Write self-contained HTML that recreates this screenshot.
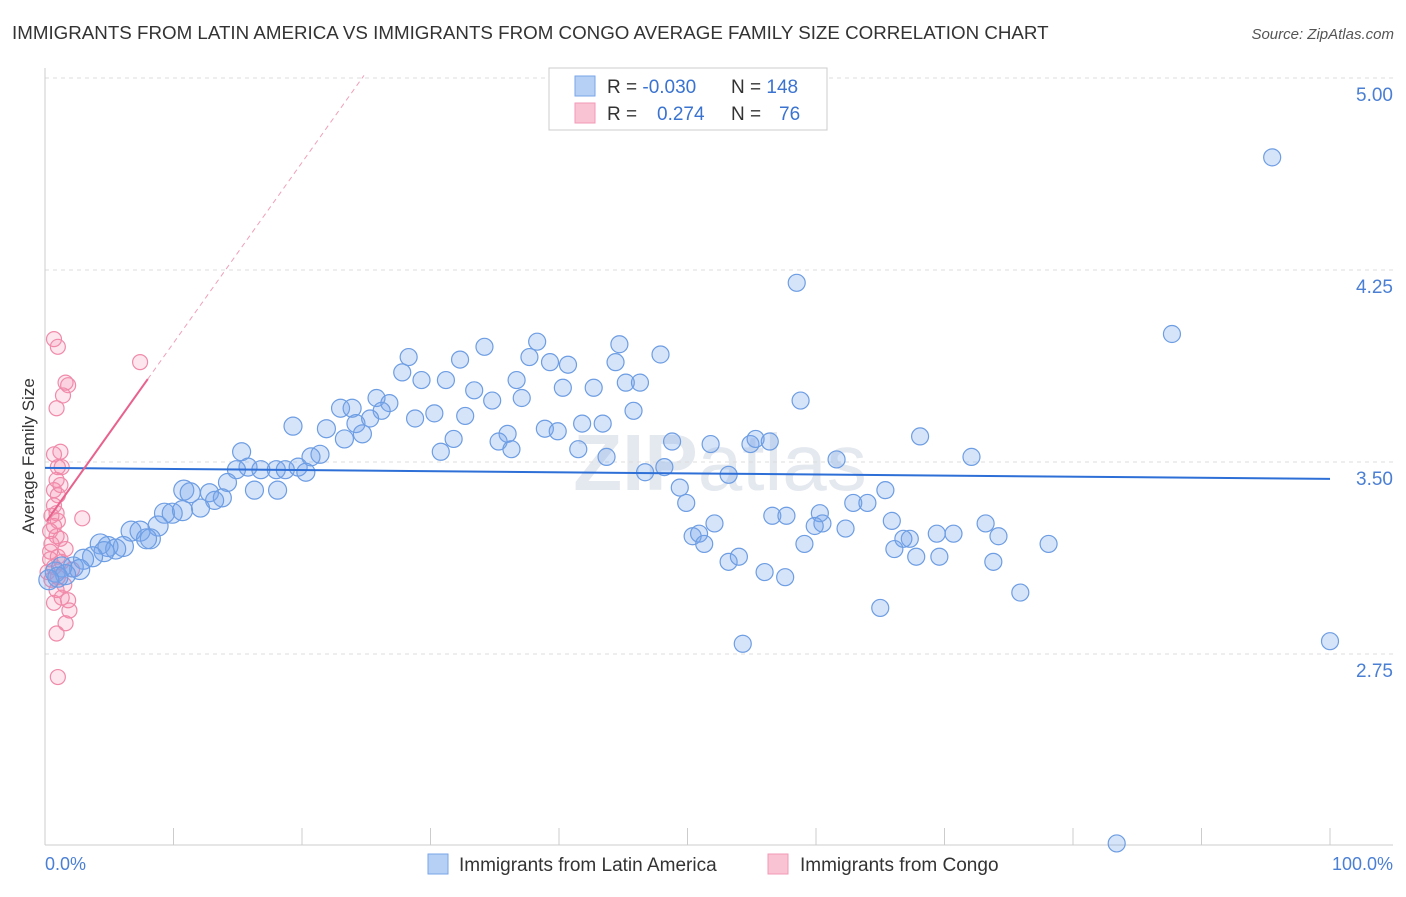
<!DOCTYPE html>
<html><head><meta charset="utf-8">
<style>
body{margin:0;background:#fff;font-family:"Liberation Sans",sans-serif;}
svg text{font-family:"Liberation Sans",sans-serif;}
</style></head>
<body>
<svg id="chart" width="1406" height="892" xmlns="http://www.w3.org/2000/svg">
<text x="12" y="39" font-size="18.75" fill="#333">IMMIGRANTS FROM LATIN AMERICA VS IMMIGRANTS FROM CONGO AVERAGE FAMILY SIZE CORRELATION CHART</text>
<text x="1394" y="39" font-size="15" fill="#555" text-anchor="end" font-style="italic">Source: ZipAtlas.com</text>
<text x="720" y="490" font-size="80" fill="#e4e8ef" text-anchor="middle" font-weight="bold">ZIP<tspan font-weight="normal">atlas</tspan></text>
<g id="grid"></g>
<g id="axes"></g>
<g id="pink"></g>
<g id="blue"></g>
<g id="trends"></g>
<text transform="translate(34,456) rotate(-90)" font-size="17" fill="#333" text-anchor="middle">Average Family Size</text>
<text x="45" y="870" font-size="18" fill="#4a7fd4">0.0%</text>
<text x="1393" y="870" font-size="18" fill="#4a7fd4" text-anchor="end">100.0%</text>
<g>
<rect x="549" y="68" width="278" height="62" fill="#fff" stroke="#ccc"/>
<rect x="575" y="76" width="20" height="20" fill="#b6d0f5" stroke="#7aa6e8"/>
<rect x="575" y="103" width="20" height="20" fill="#f9c3d3" stroke="#f29ab5"/>
<text x="607" y="93" font-size="19" fill="#333">R = <tspan fill="#3a73d0">-0.030</tspan></text>
<text x="731" y="93" font-size="19" fill="#333">N = <tspan fill="#3a73d0">148</tspan></text>
<text x="607" y="120" font-size="19" fill="#333">R = <tspan fill="#3a73d0" x="657">0.274</tspan></text>
<text x="731" y="120" font-size="19" fill="#333">N = <tspan fill="#3a73d0" x="779">76</tspan></text>
</g>
<g>
<rect x="428" y="854" width="20" height="20" fill="#b6d0f5" stroke="#7aa6e8"/>
<text x="459" y="871" font-size="19" fill="#333">Immigrants from Latin America</text>
<rect x="768" y="854" width="20" height="20" fill="#f9c3d3" stroke="#f29ab5"/>
<text x="800" y="871" font-size="19" fill="#333">Immigrants from Congo</text>
</g>
</svg>
<script>
const yTicks=[2.75,3.5,4.25,5.0];
const yTickLabels=["2.75","3.50","4.25","5.00"];
const blueX=[95.5,58.5,87.7,100,83.4,54.3,65.0,75.9,58.8,68.1,72.1,38.3,44.7,47.9,34.2,28.3,32.3,37.7,39.3,40.7,44.4,27.8,29.3,31.2,36.7,40.3,42.7,45.2,46.3,33.4,34.8,37.1,25.8,26.8,23.0,23.9,26.2,30.3,28.8,32.7,45.8,19.3,24.2,25.3,21.9,23.3,24.7,38.9,39.9,41.8,43.4,36.0,31.8,35.3,36.3,30.8,48.8,51.8,54.9,55.3,56.4,41.5,43.7,48.2,61.6,15.3,21.4,20.7,15.8,14.9,16.8,18.0,18.7,19.7,20.3,46.7,53.2,49.4,49.9,65.4,62.9,64.0,60.3,14.2,16.3,18.1,10.8,11.3,12.8,13.8,13.2,12.1,9.3,9.9,10.7,52.1,56.6,57.7,60.5,59.9,62.3,65.9,73.2,69.4,70.7,74.2,50.4,50.9,51.3,59.1,66.1,67.3,66.8,78.1,67.8,69.6,73.8,53.2,54.0,56.0,57.6,6.7,7.4,8.8,8.2,7.9,6.1,4.9,4.3,5.5,4.6,3.7,3.0,2.2,2.7,1.3,0.8,1.6,1.0,0.3];
const blueY=[4.69,4.20,4.00,2.80,2.01,2.79,2.93,2.99,3.74,3.60,3.52,3.97,3.96,3.92,3.95,3.91,3.90,3.91,3.89,3.88,3.89,3.85,3.82,3.82,3.82,3.79,3.79,3.81,3.81,3.78,3.74,3.75,3.75,3.73,3.71,3.71,3.70,3.69,3.67,3.68,3.70,3.64,3.65,3.67,3.63,3.59,3.61,3.63,3.62,3.65,3.65,3.61,3.59,3.58,3.55,3.54,3.58,3.57,3.57,3.59,3.58,3.55,3.52,3.48,3.51,3.54,3.53,3.52,3.48,3.47,3.47,3.47,3.47,3.48,3.46,3.46,3.45,3.40,3.34,3.39,3.34,3.34,3.30,3.42,3.39,3.39,3.39,3.38,3.38,3.36,3.35,3.32,3.30,3.30,3.31,3.26,3.29,3.29,3.26,3.25,3.24,3.27,3.26,3.22,3.22,3.21,3.21,3.22,3.18,3.18,3.16,3.20,3.20,3.18,3.13,3.13,3.11,3.11,3.13,3.07,3.05,3.23,3.23,3.25,3.20,3.20,3.17,3.17,3.18,3.16,3.15,3.13,3.12,3.09,3.08,3.09,3.07,3.06,3.05,3.04];
const pinkX=[0.7,1.0,1.6,1.8,1.4,0.9,1.2,0.7,1.0,1.3,0.9,1.2,0.7,1.0,0.7,0.9,0.5,1.0,0.7,0.4,0.9,1.2,0.5,0.4,1.0,1.3,0.7,0.2,1.0,0.5,1.5,0.9,1.3,0.7,1.8,1.9,1.6,0.9,1.0,7.4,2.9,1.6,2.1,0.4];
const pinkY=[3.98,3.95,3.81,3.80,3.76,3.71,3.54,3.53,3.48,3.48,3.43,3.41,3.39,3.37,3.33,3.30,3.29,3.27,3.25,3.23,3.21,3.20,3.18,3.15,3.13,3.11,3.09,3.07,3.05,3.04,3.02,3.00,2.97,2.95,2.96,2.92,2.87,2.83,2.66,3.89,3.28,3.16,3.08,3.12];
const blueTrend=[3.477,3.434];
const pinkTrend=[3.26,0.0705];
const NS="http://www.w3.org/2000/svg";
const X0=45,X1=1330,YB=462;
function sx(p){return X0+(X1-X0)*p/100;}
function sy(v){return YB-(v-3.5)*256;}
function mk(t,a,parent){const e=document.createElementNS(NS,t);for(const k in a)e.setAttribute(k,a[k]);parent.appendChild(e);return e;}
const grid=document.getElementById('grid');
yTicks.forEach((v,i)=>{
  const l=mk('line',{x1:45,x2:1393,y1:sy(v),y2:sy(v),stroke:'#ddd','stroke-dasharray':'4,4'},grid);
  
  
  const t=mk('text',{x:1393,y:sy(v)+23,'font-size':19,fill:'#4a7fd4','text-anchor':'end'},grid);
  t.textContent=yTickLabels[i];
  
  
});
const axes=document.getElementById('axes');
const xa=mk('line',{x1:45,x2:1393,y1:845,y2:845,stroke:'#ccc'},axes);


const ya=mk('line',{x1:45,x2:45,y1:68,y2:845,stroke:'#ccc'},axes);


for(let i=0;i<=10;i++){
  const t=mk('line',{x1:sx(i*10),x2:sx(i*10),y1:828,y2:845,stroke:'#ccc'},axes);
  
  
}
const pg=document.getElementById('pink');
pinkX.forEach((x,i)=>{
  const c=mk('circle',{cx:sx(x),cy:sy(pinkY[i]),r:7.5,fill:'rgba(244,140,175,0.22)',stroke:'#f08aaa','stroke-width':1.2},pg);
  
  
});
const bg=document.getElementById('blue');
blueX.forEach((x,i)=>{
  const r=x<12?10:(x<25?9:8.5);
  const c=mk('circle',{cx:sx(x),cy:sy(blueY[i]),r:r,fill:'rgba(120,165,235,0.3)',stroke:'#6d9de3','stroke-width':1.2},bg);
  
  
});
const tg=document.getElementById('trends');
const bt=mk('line',{x1:sx(0),y1:sy(blueTrend[0]),x2:sx(100),y2:sy(blueTrend[1]),stroke:'#2d6fd6','stroke-width':2},tg);


const pf=x=>pinkTrend[0]+pinkTrend[1]*x;
const xEnd=(5.01-pinkTrend[0])/pinkTrend[1];
const pd=mk('line',{x1:sx(8),y1:sy(pf(8)),x2:sx(xEnd),y2:sy(pf(xEnd)),stroke:'#f0a0b8','stroke-width':1,'stroke-dasharray':'5,4'},tg);


const ps=mk('line',{x1:sx(0.15),y1:sy(pf(0.15)),x2:sx(8),y2:sy(pf(8)),stroke:'#e8628e','stroke-width':2},tg);


</script>
</body></html>
